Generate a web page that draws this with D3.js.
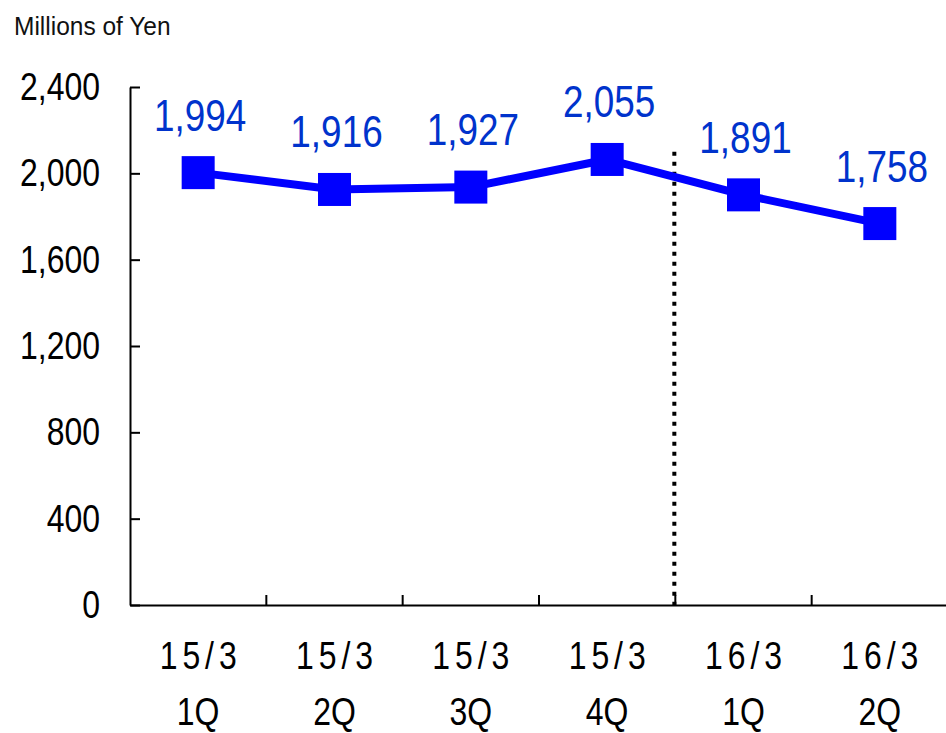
<!DOCTYPE html>
<html>
<head>
<meta charset="utf-8">
<script src="https://cdn.jsdelivr.net/npm/d3@7"></script>
<style>
  body { margin: 0; background: #fff; }
  svg { display: block; }
  .axis path, .axis line { stroke: #000; stroke-width: 2px; }
  text { font-family: "Liberation Sans", Arial, sans-serif; }
</style>
</head>
<body>
<svg id="chart" width="946" height="733"></svg>
<script>
// data
var periods = ["15/3", "15/3", "15/3", "15/3", "16/3", "16/3"];
var quarters = ["1Q", "2Q", "3Q", "4Q", "1Q", "2Q"];
var values = [1994, 1916, 1927, 2055, 1891, 1758];
var yTicks = [0, 400, 800, 1200, 1600, 2000, 2400];
var unitLabel = "Millions of Yen";
var splitIndex = 4; // dotted line before new fiscal year

var keys = periods.map(function(p, i) { return p + " " + quarters[i]; });
var narrow = 0.82; // squeeze text horizontally, no narrow font installed

var svg = d3.select("#chart");

var x = d3.scaleBand().domain(keys).range([130, 948]).padding(0);
var y = d3.scaleLinear().domain([0, 2400]).range([605, 87]);

function squeeze(px, py, k) {
  return "translate(" + px + "," + py + ") scale(" + (k || narrow) + ",1)";
}

// unit label
svg.append("text")
  .attr("transform", squeeze(14, 35, 0.98))
  .attr("font-size", 25)
  .attr("fill", "#111")
  .text(unitLabel);

// y axis
var yAxis = svg.append("g")
  .attr("class", "axis")
  .attr("transform", "translate(130,0)")
  .call(d3.axisLeft(y).tickValues(yTicks).tickSizeInner(-10).tickSizeOuter(0)
    .tickPadding(30).tickFormat(d3.format(",")));
yAxis.selectAll("text")
  .attr("x", 0)
  .attr("transform", squeeze(-30, 0))
  .attr("font-size", 39)
  .attr("fill", "#000")
  .attr("font-family", "Liberation Sans, Arial, sans-serif");

// x axis (ticks at category boundaries)
var xAxis = svg.append("g")
  .attr("class", "axis")
  .attr("transform", "translate(0,605)")
  .call(d3.axisBottom(x).tickSize(0).tickFormat(""));
xAxis.selectAll(".tick").remove();

xAxis.selectAll(".bound")
  .data(keys.slice(1))
  .enter().append("line")
  .attr("class", "bound")
  .attr("x1", function(d) { return x(d); })
  .attr("x2", function(d) { return x(d); })
  .attr("y1", 0).attr("y2", -10);

var lab = svg.append("g").selectAll("g")
  .data(keys)
  .enter().append("g")
  .attr("transform", function(d) { return squeeze(x(d) + x.bandwidth() / 2, 0); });
lab.append("text")
  .attr("x", 3)
  .attr("y", 669)
  .attr("text-anchor", "middle")
  .attr("font-size", 39)
  .attr("letter-spacing", 6)
  .text(function(d, i) { return periods[i]; });
lab.append("text")
  .attr("y", 725)
  .attr("text-anchor", "middle")
  .attr("font-size", 39)
  .text(function(d, i) { return quarters[i]; });

// dotted separator
svg.append("line")
  .attr("x1", x(keys[splitIndex]) - 1)
  .attr("x2", x(keys[splitIndex]) - 1)
  .attr("y1", y(2100))
  .attr("y2", y(0))
  .attr("stroke", "#000")
  .attr("stroke-width", 4)
  .attr("stroke-dasharray", "4,6");

// series line
var cx = function(d, i) { return x(keys[i]) + x.bandwidth() / 2; };
var line = d3.line()
  .x(cx)
  .y(function(d) { return y(d) - 2; });

svg.append("path")
  .datum(values)
  .attr("d", line)
  .attr("fill", "none")
  .attr("stroke", "#0000ff")
  .attr("stroke-width", 8)
  .attr("stroke-linejoin", "round");

var ms = 33;
svg.selectAll(".marker")
  .data(values)
  .enter().append("rect")
  .attr("class", "marker")
  .attr("x", function(d, i) { return cx(d, i) - ms / 2; })
  .attr("y", function(d) { return y(d) - 2 - ms / 2; })
  .attr("width", ms).attr("height", ms)
  .attr("fill", "#0000ff");

svg.selectAll(".val")
  .data(values)
  .enter().append("text")
  .attr("class", "val")
  .attr("transform", function(d, i) { return squeeze(cx(d, i) + 2, y(d) - 44); })
  .attr("text-anchor", "middle")
  .attr("font-size", 45)
  .attr("fill", "#0033cc")
  .text(d3.format(","));
</script>
</body>
</html>
